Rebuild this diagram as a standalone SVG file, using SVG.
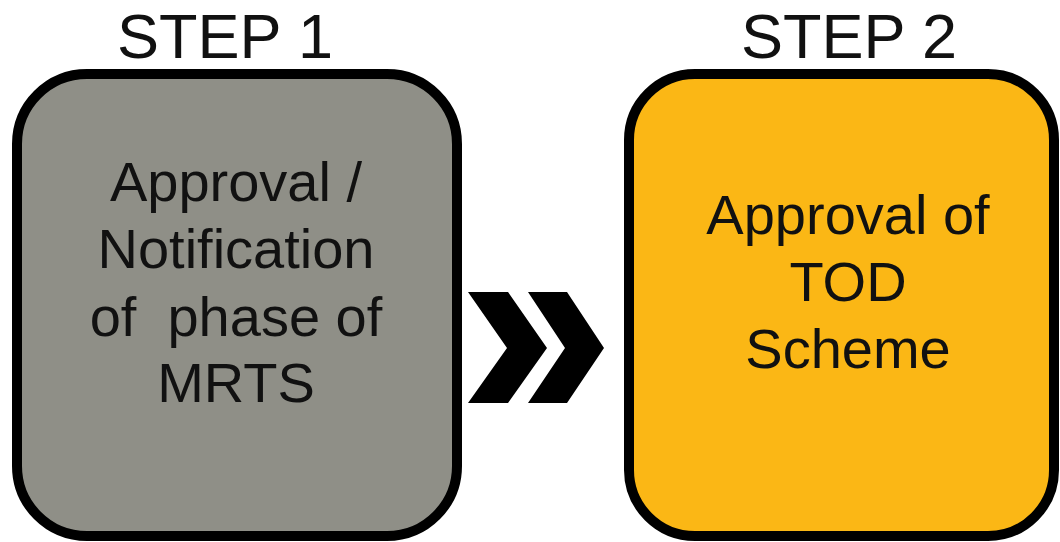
<svg xmlns="http://www.w3.org/2000/svg" width="1060" height="542" viewBox="0 0 1060 542">
<style>
.box{stroke:#000;stroke-width:10}
.t{font-family:"Liberation Sans",Arial,sans-serif;fill:#111;text-anchor:middle}
.step{font-size:63px}
.body{font-size:56px}
</style>
<rect width="1060" height="542" fill="#fff"/>
<g id="step1">
<text class="t step" x="225" y="58">STEP 1</text>
<rect class="box" x="17" y="74" width="440" height="462" rx="70" ry="70" fill="#8f8f87"/>
<text class="t body" x="236" y="201">Approval /</text>
<text class="t body" x="236" y="268">Notification</text>
<text class="t body" x="236" y="336" xml:space="preserve">of  phase of</text>
<text class="t body" x="236" y="402">MRTS</text>
</g>
<g id="connectors">
<polygon points="468,292 508,292 547,348 508,403 468,403 507,348" fill="#000"/>
<polygon points="528,292 567,292 604,348 567,403 528,403 565,348" fill="#000"/>
</g>
<g id="step2">
<text class="t step" x="849" y="58">STEP 2</text>
<rect class="box" x="629" y="74" width="425" height="462" rx="66" ry="66" fill="#fbb715"/>
<text class="t body" x="848" y="234">Approval of</text>
<text class="t body" x="848" y="301">TOD</text>
<text class="t body" x="848" y="368">Scheme</text>
</g>
</svg>
